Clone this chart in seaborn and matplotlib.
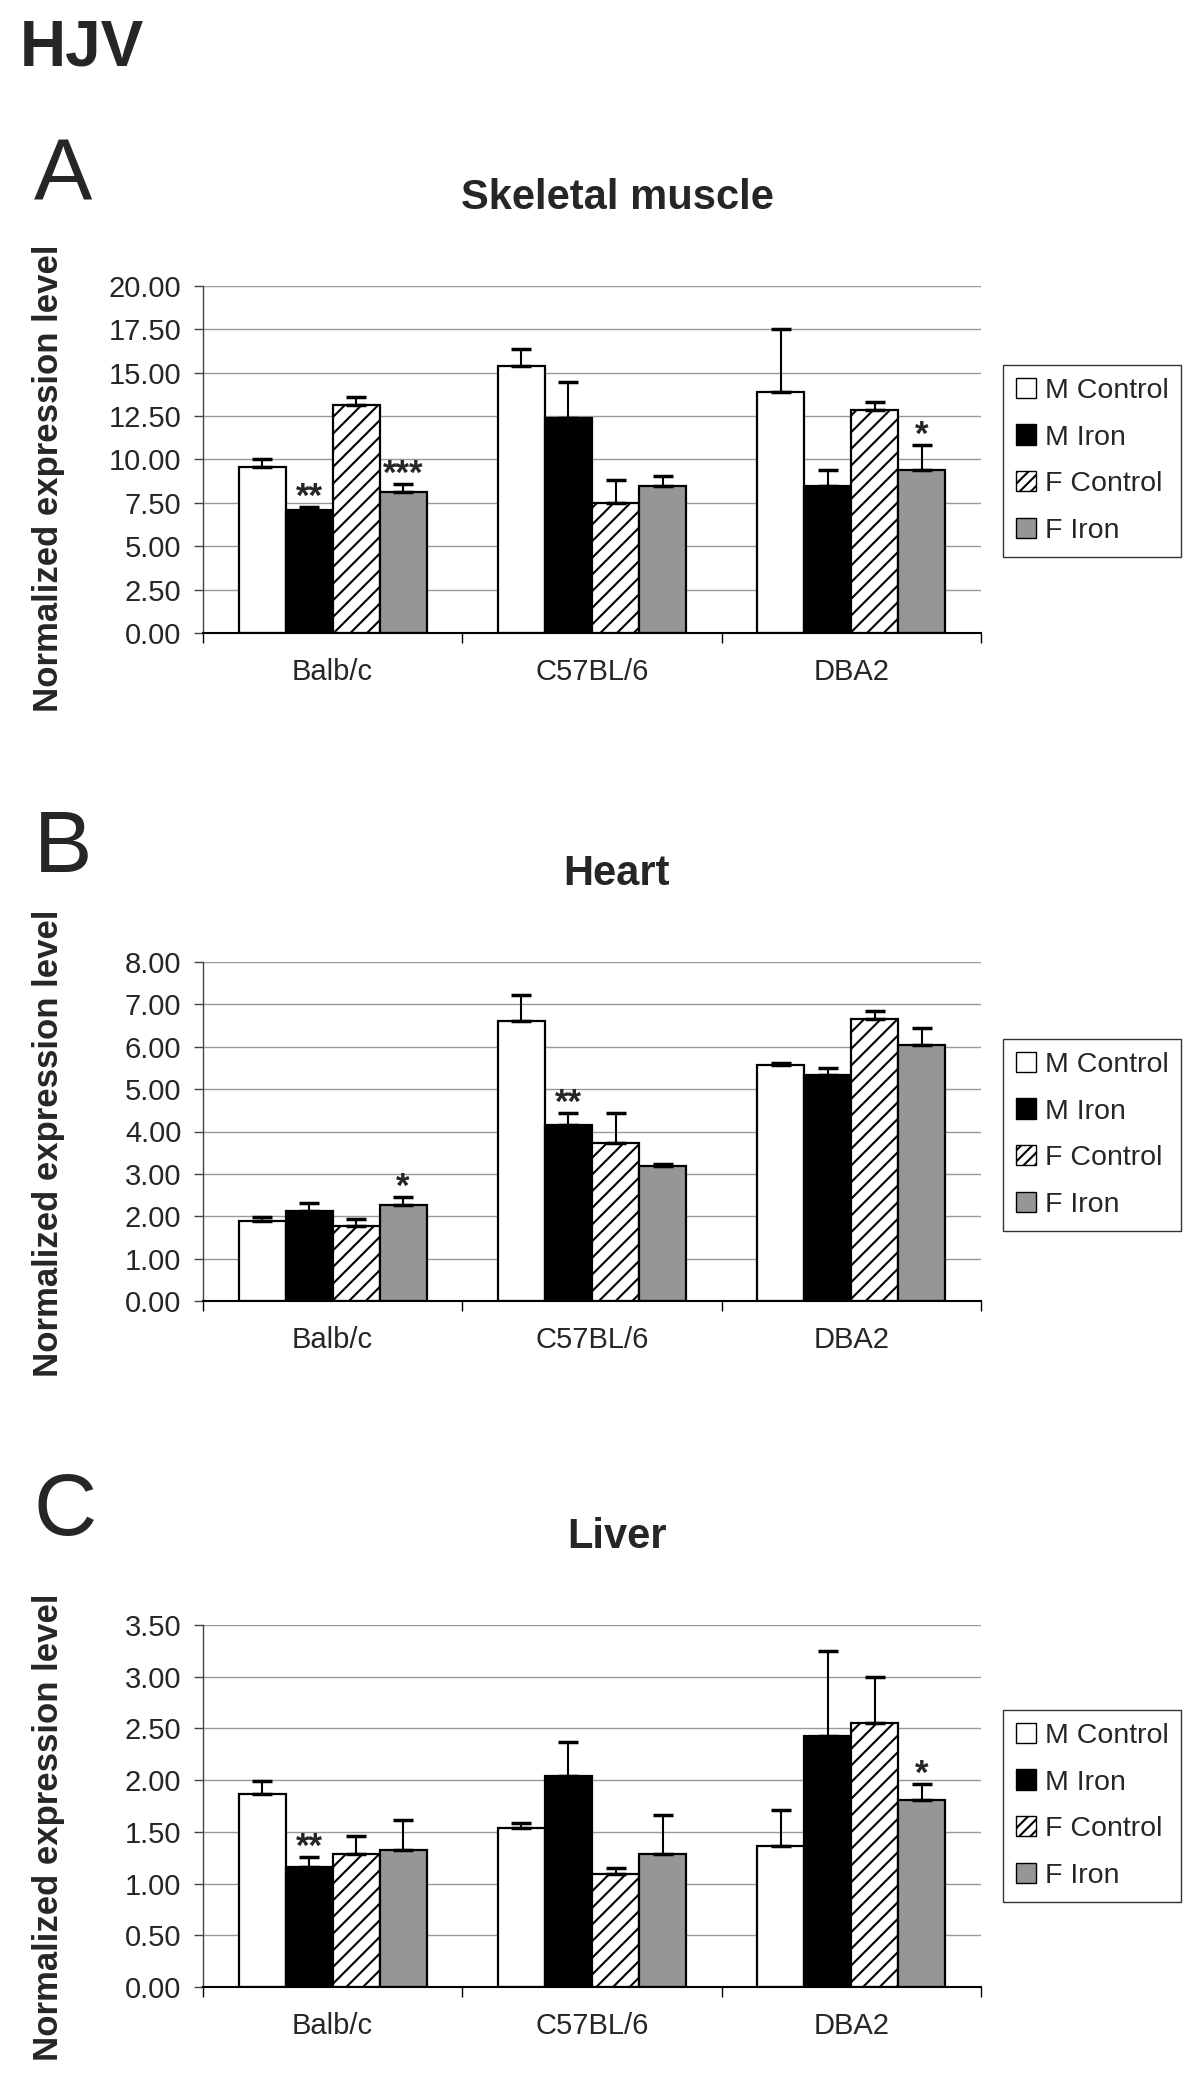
import numpy as np
import pandas as pd
import matplotlib
matplotlib.use("Agg")
import matplotlib.pyplot as plt
import matplotlib.patches as mpatches
from matplotlib.ticker import FormatStrFormatter
import seaborn as sns

strains = ["Balb/c", "C57BL/6", "DBA2"]
groups = ["M Control", "M Iron", "F Control", "F Iron"]
bar_colors = ["white", "black", "white", "#969696"]

# rows = strain, columns = group
muscle_mean = [[9.55, 7.08, 13.17, 8.13], [15.40, 12.40, 7.52, 8.46], [13.88, 8.48, 12.83, 9.42]]
muscle_err = [[0.45, 0.20, 0.46, 0.46], [0.96, 2.06, 1.29, 0.60], [3.63, 0.94, 0.46, 1.42]]
muscle_stars = [("Balb/c", "M Iron", "**"), ("Balb/c", "F Iron", "***"), ("DBA2", "F Iron", "*")]

heart_mean = [[1.88, 2.12, 1.78, 2.26], [6.60, 4.15, 3.73, 3.19], [5.56, 5.33, 6.65, 6.03]]
heart_err = [[0.10, 0.19, 0.15, 0.19], [0.61, 0.28, 0.70, 0.05], [0.05, 0.18, 0.19, 0.42]]
heart_stars = [("Balb/c", "F Iron", "*"), ("C57BL/6", "M Iron", "**")]

liver_mean = [[1.87, 1.16, 1.29, 1.32], [1.54, 2.04, 1.09, 1.29], [1.36, 2.43, 2.55, 1.81]]
liver_err = [[0.12, 0.10, 0.17, 0.29], [0.05, 0.33, 0.06, 0.37], [0.35, 0.82, 0.45, 0.15]]
liver_stars = [("Balb/c", "M Iron", "**"), ("DBA2", "F Iron", "*")]

W, H = 1200, 2084


def fx(px):
    return px / W


def fy(py):
    return 1 - py / H


sns.set_theme(style="white")
plt.rcParams["font.family"] = ["Liberation Sans", "DejaVu Sans"]
plt.rcParams["hatch.linewidth"] = 1.5
plt.rcParams["hatch.color"] = "black"


def draw_panel(fig, top, bottom, letter, letter_y, title, title_y, means, errs, stars,
               ymax, step, legend_top, ylab_y):
    ax = fig.add_axes([fx(203), fy(bottom), fx(981) - fx(203), (bottom - top) / H])
    df = pd.DataFrame({
        "strain": np.repeat(strains, len(groups)),
        "group": groups * len(strains),
        "value": np.ravel(means),
    })
    sns.barplot(data=df, x="strain", y="value", hue="group", order=strains,
                hue_order=groups, palette=bar_colors, edgecolor="black",
                linewidth=1.6, width=0.725, errorbar=None, legend=False,
                saturation=1, ax=ax)

    bars = list(ax.containers)
    for gi, cont in enumerate(bars):
        for si, patch in enumerate(cont):
            if groups[gi] == "F Control":
                patch.set_hatch("//")
            x = patch.get_x() + patch.get_width() / 2
            y = patch.get_height()
            ax.errorbar(x, y, yerr=[[0], [errs[si][gi]]], fmt="none", ecolor="black",
                        elinewidth=1.5, capsize=7, capthick=2.5, zorder=3)

    for strain, group, label in stars:
        si, gi = strains.index(strain), groups.index(group)
        patch = bars[gi][si]
        x = patch.get_x() + patch.get_width() / 2
        ax.annotate(label, (x, patch.get_height() + errs[si][gi]), xytext=(0, 0),
                    textcoords="offset points", ha="center", va="baseline",
                    fontsize=25, fontweight="bold")

    ax.set_xlim(-0.5, 2.5)
    ax.set_ylim(0, ymax)
    ax.set_yticks(np.arange(0, ymax + step / 2, step))
    ax.yaxis.set_major_formatter(FormatStrFormatter("%.2f"))
    ax.set_axisbelow(True)
    ax.yaxis.grid(True, color="#999999", linewidth=1)
    ax.xaxis.grid(False)
    ax.set_xlabel("")
    ax.set_ylabel("")
    for side in ["top", "right"]:
        ax.spines[side].set_visible(False)
    ax.spines["left"].set_color("#444444")
    ax.spines["left"].set_linewidth(1)
    ax.spines["bottom"].set_color("black")
    ax.spines["bottom"].set_linewidth(1.5)
    ax.tick_params(axis="y", length=6.5, width=1, color="#444444", labelsize=21, pad=9, left=True)
    ax.set_xticks([-0.5, 0.5, 1.5, 2.5], minor=True)
    ax.tick_params(axis="x", which="major", length=0, labelsize=21, pad=18)
    ax.tick_params(axis="x", which="minor", length=7.5, width=1, color="black", bottom=True)

    handles = [mpatches.Patch(facecolor=c, edgecolor="black", linewidth=1,
                              hatch="///" if g == "F Control" else None, label=g)
               for g, c in zip(groups, bar_colors)]
    leg = ax.legend(handles=handles, loc="upper left",
                    bbox_to_anchor=(fx(1003), fy(legend_top)), bbox_transform=fig.transFigure,
                    fontsize=20.5, frameon=True, fancybox=False, borderaxespad=0,
                    handlelength=0.72, handleheight=0.72, handletextpad=0.3,
                    labelspacing=0.72, borderpad=0.45)
    leg.get_frame().set_edgecolor("black")
    leg.get_frame().set_linewidth(1)

    fig.text(fx(34), fy(letter_y), letter, fontsize=63, va="baseline", ha="left")
    fig.text(fx(617), fy(title_y), title, fontsize=30, fontweight="bold",
             va="baseline", ha="center")
    fig.text(fx(49), fy(ylab_y), "Normalized expression level", fontsize=25,
             fontweight="bold", rotation=90, va="center", ha="center")
    return ax


fig = plt.figure(figsize=(12, 20.84), dpi=100)
fig.text(fx(20), fy(66), "HJV", fontsize=46, fontweight="bold", va="baseline", ha="left")

draw_panel(fig, 286, 633, "A", 201, "Skeletal muscle", 209, muscle_mean, muscle_err,
           muscle_stars, 20, 2.5, 365, 478)
draw_panel(fig, 962, 1301, "B", 872, "Heart", 885, heart_mean, heart_err,
           heart_stars, 8, 1, 1039, 1143)
draw_panel(fig, 1625, 1987, "C", 1535, "Liver", 1548, liver_mean, liver_err,
           liver_stars, 3.5, 0.5, 1710, 1827)

fig.savefig("out.png", dpi=100, facecolor="white")
